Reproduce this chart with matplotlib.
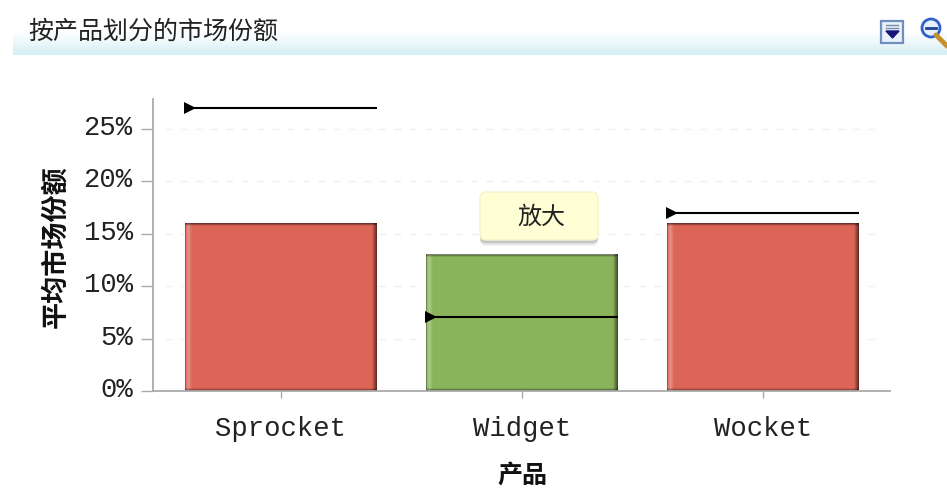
#!/usr/bin/env python
"""Market share by product: bars with target markers, plus the dashboard header."""
import numpy as np
import matplotlib
matplotlib.use("Agg")
import matplotlib.pyplot as plt
from matplotlib.patches import FancyBboxPatch, Rectangle, Circle
from matplotlib.colors import LinearSegmentedColormap
from matplotlib.transforms import ScaledTranslation

plt.rcParams["font.family"] = ["Noto Sans CJK SC", "DejaVu Sans"]

W, H = 947, 492

products = ["Sprocket", "Widget", "Wocket"]
share = [16.0, 13.0, 16.0]
target = [27.0, 7.1, 17.0]
bar_colors = ["#dc6557", "#8ab45c"]  # under / over target
yticks = [0, 5, 10, 15, 20, 25]
title = "按产品划分的市场份额"
ylabel = "平均市场份额"
xlabel = "产品"
tooltip = "放大"
MONO = "Liberation Mono"


def px_axes(fig, zorder):
    """Axes covering the figure in pixel coords, y going down."""
    a = fig.add_axes([0, 0, 1, 1], zorder=zorder)
    a.set_xlim(0, W); a.set_ylim(H, 0)
    a.axis("off"); a.patch.set_alpha(0)
    return a


def shade_bar(ax, bar):
    """Bevel: light left edge, dark right/top/bottom edges."""
    x0, w = bar.get_x(), bar.get_width()
    h = bar.get_height()
    ext = [x0, x0 + w, 0, h]
    n = 192
    t = (np.arange(n) + 0.5) / n
    dark = np.zeros((1, n, 4))
    dark[..., 3] = 0.6 * np.clip(1 - (1 - t) * n / 5, 0, 1) + 0.4 * np.clip(1 - t * n / 1.5, 0, 1)
    ax.imshow(dark, extent=ext, aspect="auto", zorder=2.1, interpolation="bilinear")
    light = np.ones((1, n, 4))
    light[..., 3] = 0.28 * np.clip(1 - np.abs(t * n - 3.5) / 3.5, 0, 1)
    ax.imshow(light, extent=ext, aspect="auto", zorder=2.1, interpolation="bilinear")
    m = int(round(h * 10.48))
    s = (np.arange(m) + 0.5) / m
    edge = np.zeros((m, 1, 4))
    edge[:, 0, 3] = 0.6 * (np.clip(1 - s * m / 3, 0, 1) + np.clip(1 - (1 - s) * m / 3, 0, 1))
    ax.imshow(edge, extent=ext, aspect="auto", zorder=2.1, interpolation="bilinear")


fig = plt.figure(figsize=(W / 100, H / 100), dpi=100, facecolor="white")

# header band
bg = px_axes(fig, 0)
band = LinearSegmentedColormap.from_list("band", ["#ffffff", "#eef8fb", "#d2edf4"])
bg.imshow(np.linspace(0, 1, 64)[:, None], cmap=band, extent=[13, W, 55, 30],
          aspect="auto")
bg.set_xlim(0, W); bg.set_ylim(H, 0)
bg.text(28, 32, title, fontsize=18, color="#222222", va="center", ha="left")

# main chart
left, right, top, bottom = 153, 890, 99, 391
ax = fig.add_axes([left / W, 1 - bottom / H, (right - left) / W, (bottom - top) / H],
                  zorder=1)
ax.patch.set_alpha(0)
x = np.arange(len(products))
colors = [bar_colors[0] if t > s else bar_colors[1] for s, t in zip(share, target)]
bars = ax.bar(x, share, width=0.795, color=colors, edgecolor="none", zorder=2)
for b in bars:
    shade_bar(ax, b)
ax.set_xlim(-0.531, 2.527)
ax.set_ylim(0, 27.86)

for b, t in zip(bars, target):
    ax.hlines(t, b.get_x(), b.get_x() + b.get_width(), color="black", lw=1.5, zorder=3)
    ax.plot([b.get_x() + 0.02], [t], marker=">", color="black", ms=8, mew=0, zorder=3,
            clip_on=False)

ax.set_yticks(yticks)
ax.set_yticklabels([f"{v}%" for v in yticks], family=MONO, fontsize=19.6, color="#222222")
ax.set_xticks(x)
ax.set_xticklabels(products, family=MONO, fontsize=19.6, color="#222222")
ax.tick_params(axis="y", length=8.6, width=1, color="#aaaaaa", pad=6)
ax.tick_params(axis="x", length=5, width=1, color="#aaaaaa", pad=13)
# tick labels sit a little above their ticks in the original
nudge = ScaledTranslation(0, 4 / 100, fig.dpi_scale_trans)
for lab in ax.get_yticklabels():
    lab.set_transform(lab.get_transform() + nudge)
ax.hlines(yticks[1:], -0.48, 2.47, color="#f4eef0", lw=1, ls=(0, (5, 6)), zorder=1)
for side in ("top", "right"):
    ax.spines[side].set_visible(False)
for side in ("left", "bottom"):
    ax.spines[side].set_color("#aaaaaa")
    ax.spines[side].set_linewidth(1.3)

fg = px_axes(fig, 2)
fg.text(55, 247, ylabel, rotation=90, fontsize=19.5, fontweight="bold", color="#111111",
        ha="center", va="center")
fg.text(522, 476, xlabel, fontsize=18, fontweight="bold", color="#111111",
        ha="center", va="center")

# tooltip with soft shadow
for off, al in ((5, 0.08), (3.5, 0.12), (2, 0.18)):
    fg.add_patch(FancyBboxPatch((480, 192 + off), 118, 49, boxstyle="round,pad=0,rounding_size=6",
                                fc="#555555", ec="none", alpha=al))
fg.add_patch(FancyBboxPatch((480, 192), 118, 48, boxstyle="round,pad=0,rounding_size=6",
                            fc="#ffffd6", ec="#f4f4cc", lw=1))
fg.text(541, 217, tooltip, fontsize=17.3, color="#222222", ha="center", va="center")

# toolbar icons
fg.add_patch(Rectangle((881, 21), 22, 22, fc="#eaf0fa", ec="#6f8fc0", lw=1.6))
for y in (25, 28):
    fg.plot([886, 898], [y, y], color="#7a8aa8", lw=1)
fg.fill([886, 899, 892.5], [31, 31, 38], color="#14147a")
fg.plot([936, 947], [35, 46], color="#c8902c", lw=3.5, solid_capstyle="round")
fg.add_patch(Circle((931, 28), 9, fc="#e6effc", ec="#2f62c8", lw=2))
fg.plot([926, 936], [28, 28], color="#1f3f9a", lw=2)
fg.set_xlim(0, W); fg.set_ylim(H, 0)

fig.savefig("out.png", dpi=100)
